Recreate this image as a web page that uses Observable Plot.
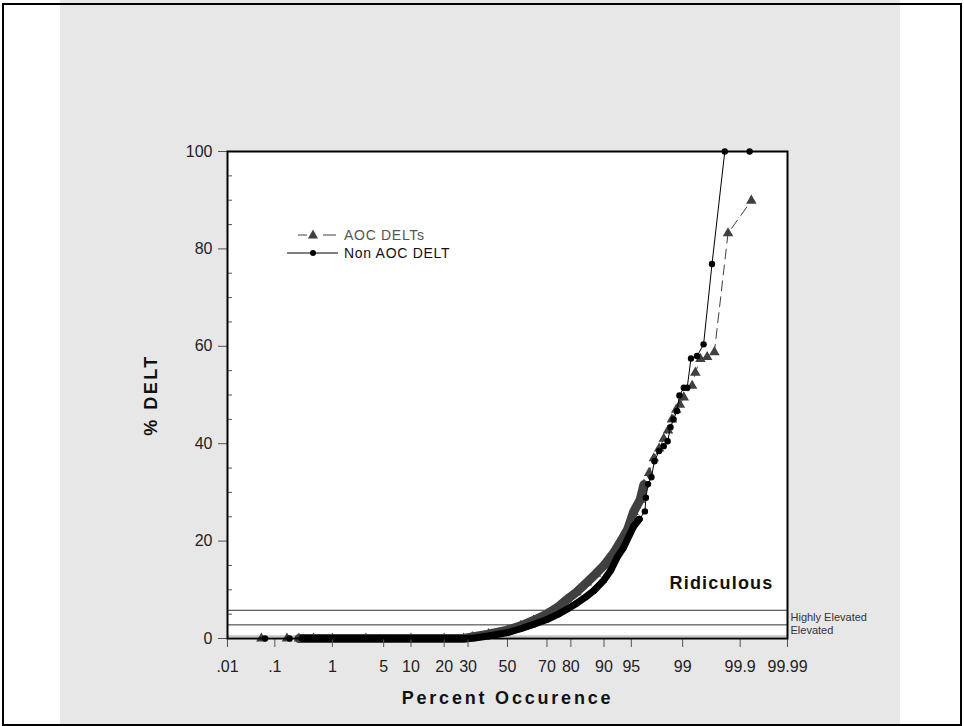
<!DOCTYPE html>
<html><head><meta charset="utf-8">
<script src="https://cdn.jsdelivr.net/npm/d3@7"></script>
<script src="https://cdn.jsdelivr.net/npm/@observablehq/plot@0.6"></script>
<style>
html,body{margin:0;padding:0;background:#fff;}
#wrap{position:relative;width:964px;height:726px;overflow:hidden;font-family:"Liberation Sans",Arial,sans-serif;}
#chart svg{display:block;}
#border{position:absolute;left:2px;top:3px;width:956px;height:719px;border:2px solid #000;pointer-events:none;}
#legend{position:absolute;left:0;top:0;pointer-events:none;}
</style></head>
<body>
<div id="wrap">
  <div id="chart"></div>
  <svg id="legend" width="964" height="726" font-family="Liberation Sans, Arial, sans-serif" font-size="14">
    <line x1="298" y1="235" x2="307" y2="235" stroke="#404040" stroke-width="1"/>
    <line x1="323" y1="235" x2="336" y2="235" stroke="#404040" stroke-width="1"/>
    <path d="M313,229.5 L318,238.5 L308,238.5 Z" fill="#404040"/>
    <text x="344" y="235" dy="0.36em" fill="#555" letter-spacing="0.7">AOC DELTs</text>
    <line x1="287" y1="253" x2="338" y2="253" stroke="#000" stroke-width="1"/>
    <circle cx="313" cy="253" r="3" fill="#000"/>
    <text x="344" y="253" dy="0.36em" fill="#111" letter-spacing="0.7">Non AOC DELT</text>
  </svg>
  <div id="border"></div>
</div>
<script>
// ---- data (percent occurrence, % DELT) ----
const aocPct  = [0.054, 0.17, 0.28, 0.5, 1, 3, 10, 20, 28, 32, 40, 50, 57, 63.5, 70, 75, 78.5, 82, 85.4, 88, 90, 92.1, 93.5, 94.5, 95.3, 96.1, 96.5, 97, 97.4, 97.8, 98.1, 98.35, 98.55, 98.75, 98.9, 99.04, 99.29, 99.37, 99.48, 99.6, 99.70, 99.83, 99.94];
const aocDelt = [0, 0, 0, 0, 0, 0, 0, 0, 0, 0.3, 0.9, 1.7, 2.6, 3.7, 5.0, 6.5, 8.0, 9.5, 11.5, 13.3, 15, 17.6, 20.2, 22.5, 26, 28.5, 31.6, 34, 37, 39, 41, 42.7, 45, 47, 48, 49.5, 51.9, 54.6, 57.4, 57.8, 58.8, 83.2, 89.9];

const nonPct  = [0.064, 0.19, 0.32, 0.5, 1, 3, 10, 20, 29, 33, 40, 50, 57, 63.5, 70, 75, 78.5, 82, 85, 87.4, 90, 91.5, 92.7, 93.8, 95.3, 96, 96.6, 96.7, 96.9, 97.2, 97.45, 97.8, 98.1, 98.33, 98.48, 98.63, 98.78, 98.88, 99.04, 99.15, 99.26, 99.41, 99.54, 99.67, 99.805, 99.935];
const nonDelt = [0, 0, 0, 0, 0, 0, 0, 0, 0, 0.1, 0.5, 1.2, 2.0, 2.9, 3.9, 5.0, 6.0, 7.2, 8.5, 9.8, 12, 14, 16.6, 18.6, 23, 24.5, 26.1, 28.9, 31.7, 33.1, 36.4, 38.5, 39.5, 40.5, 43.4, 45, 46.7, 49.9, 51.5, 51.5, 57.5, 58, 60.4, 76.9, 100, 100];

const xTickPct    = [0.01, 0.1, 1, 5, 10, 20, 30, 50, 70, 80, 90, 95, 99, 99.9, 99.99];
const xTickLabels = [".01", ".1", "1", "5", "10", "20", "30", "50", "70", "80", "90", "95", "99", "99.9", "99.99"];
const yTicks      = [0, 20, 40, 60, 80, 100];
const yMinorTicks = [5, 10, 15, 25, 30, 35, 45, 50, 55, 65, 70, 75, 85, 90, 95];
const bandLevels  = [0.5, 2.8, 5.8];
const bandLabels  = ["Elevated", "Highly Elevated"];
const topLabel    = "Ridiculous";

// ---- probability (normal quantile) scale ----
function probit(p) {
  const a=[-3.969683028665376e+01,2.209460984245205e+02,-2.759285104469687e+02,1.383577518672690e+02,-3.066479806614716e+01,2.506628277459239e+00];
  const b=[-5.447609879822406e+01,1.615858368580409e+02,-1.556989798598866e+02,6.680131188771972e+01,-1.328068155288572e+01];
  const c=[-7.784894002430293e-03,-3.223964580411365e-01,-2.400758276161838e+00,-2.549732539343734e+00,4.374664141464968e+00,2.938163982698783e+00];
  const d=[7.784695709041462e-03,3.224671290700398e-01,2.445134137142996e+00,3.754408661907416e+00];
  const pl=0.02425, ph=1-pl; let q,r;
  if (p < pl) { q=Math.sqrt(-2*Math.log(p)); return (((((c[0]*q+c[1])*q+c[2])*q+c[3])*q+c[4])*q+c[5])/((((d[0]*q+d[1])*q+d[2])*q+d[3])*q+1); }
  if (p <= ph) { q=p-0.5; r=q*q; return (((((a[0]*r+a[1])*r+a[2])*r+a[3])*r+a[4])*r+a[5])*q/(((((b[0]*r+b[1])*r+b[2])*r+b[3])*r+b[4])*r+1); }
  q=Math.sqrt(-2*Math.log(1-p)); return -(((((c[0]*q+c[1])*q+c[2])*q+c[3])*q+c[4])*q+c[5])/((((d[0]*q+d[1])*q+d[2])*q+d[3])*q+1);
}
const px = d => probit(d.p / 100);

const aoc = aocPct.map((p, i) => ({p, v: aocDelt[i]}));
const non = nonPct.map((p, i) => ({p, v: nonDelt[i]}));
// dense stretch (overlapping markers) drawn as a solid band
const denseMin = 0.25, denseMax = 96.5;
const aocDense = aoc.filter(d => d.p >= denseMin && d.p <= denseMax);
const nonDense = non.filter(d => d.p >= denseMin && d.p <= denseMax);

const tickZ = xTickPct.map(p => probit(p / 100));
const tickLabelMap = new Map(tickZ.map((z, i) => [z, xTickLabels[i]]));
const bandMid = bandLabels.map((t, i) => ({t, v: (bandLevels[i] + bandLevels[i + 1]) / 2}));

const AOC_COLOR = "#404040";
const font = "Liberation Sans, Arial, sans-serif";

const chart = Plot.plot({
  width: 964,
  height: 726,
  marginLeft: 227,
  marginRight: 177,
  marginTop: 151,
  marginBottom: 88,
  style: {
    fontFamily: font,
    background: "linear-gradient(to right, #fff 0px, #fff 60px, #e7e7e7 60px, #e7e7e7 900px, #fff 900px)",
    overflow: "visible"
  },
  x: {type: "linear", domain: [probit(0.0001), probit(0.9999)], axis: null, label: null},
  y: {domain: [0, 100], axis: null, label: null},
  marks: [
    Plot.frame({fill: "#fff", stroke: null}),
    Plot.ruleY(bandLevels, {stroke: d => d === bandLevels[0] ? "#999" : "#333", strokeWidth: 1}),
    // AOC DELTs
    Plot.line(aocDense, {x: px, y: "v", stroke: AOC_COLOR, strokeWidth: 9, strokeLinejoin: "round", strokeLinecap: "round"}),
    Plot.line(aoc, {x: px, y: "v", stroke: AOC_COLOR, strokeWidth: 1, strokeDasharray: "10,6"}),
    Plot.dot(aoc, {x: px, y: "v", symbol: "triangle", r: 3.9, fill: AOC_COLOR, stroke: null}),
    // Non AOC DELT
    Plot.line(nonDense, {x: px, y: "v", stroke: "#000", strokeWidth: 7, strokeLinejoin: "round", strokeLinecap: "round"}),
    Plot.line(non, {x: px, y: "v", stroke: "#000", strokeWidth: 1}),
    Plot.dot(non, {x: px, y: "v", r: 3.2, fill: "#000", stroke: null}),
    // axes
    Plot.axisX({ticks: tickZ, tickFormat: d => tickLabelMap.get(d), tickSize: 9, tickPadding: 13, fontSize: 16, stroke: "#555", fill: "#222", label: null}),
    Plot.axisY({ticks: yTicks, tickSize: 9, tickPadding: 6, fontSize: 16, stroke: "#555", fill: "#222", label: null}),
    Plot.axisY({ticks: yMinorTicks, tickSize: 5, dx: 5, tickFormat: () => "", stroke: "#555", label: null}),
    Plot.frame({stroke: "#000", strokeWidth: 2}),
    // labels
    Plot.text(bandMid, {y: "v", text: "t", frameAnchor: "right", textAnchor: "start", dx: 3, fontSize: 11, fill: "#333"}),
    Plot.text([topLabel], {frameAnchor: "bottom-right", textAnchor: "end", lineAnchor: "middle", dx: -14, dy: -55, fontSize: 18, fontWeight: "bold", fill: "#111"}),
    Plot.text(["% DELT"], {frameAnchor: "left", textAnchor: "middle", lineAnchor: "middle", rotate: -90, dx: -76, fontSize: 18, fontWeight: "bold", fill: "#111"}),
    Plot.text(["Percent Occurence"], {frameAnchor: "bottom", textAnchor: "middle", lineAnchor: "middle", dy: 60, fontSize: 18, fontWeight: "bold", fill: "#111"})
  ]
});
document.getElementById("chart").append(chart);
chart.querySelectorAll("text").forEach(t => {
  const s = t.textContent;
  if (s === "Percent Occurence") t.setAttribute("letter-spacing", "2.8");
  if (s === "% DELT") t.setAttribute("letter-spacing", "2.5");
  if (s === topLabel) t.setAttribute("letter-spacing", "1.2");
});
</script>
</body></html>
